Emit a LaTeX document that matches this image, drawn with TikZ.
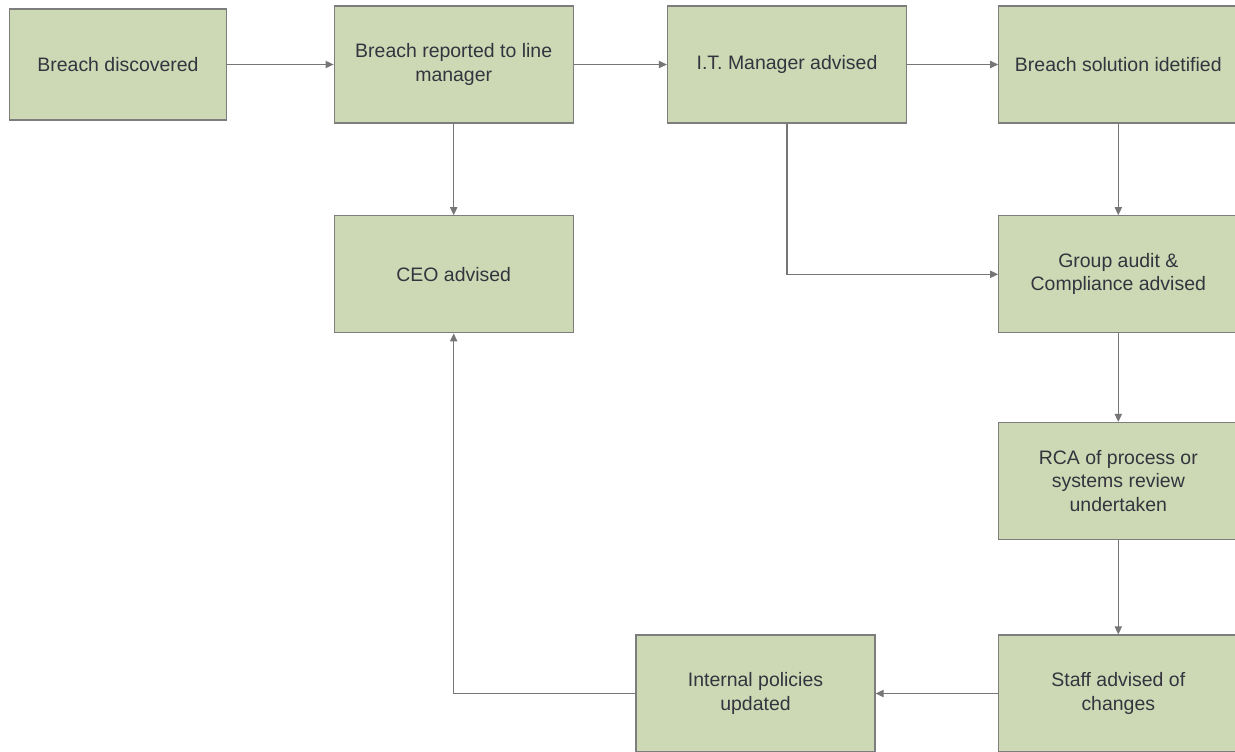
\documentclass[tikz,border=0pt]{standalone}
\usepackage{fontspec}
\setmainfont{Liberation Sans}
\usetikzlibrary{arrows.meta}
\definecolor{boxfill}{RGB}{205,217,181}
\definecolor{boxline}{RGB}{125,125,125}
\definecolor{arrowc}{RGB}{118,118,118}
\definecolor{textc}{RGB}{52,52,62}
\begin{document}
\begin{tikzpicture}[x=0.75pt,y=-0.75pt,
  stepbox/.style={draw=boxline, fill=boxfill, line width=0.9pt, rectangle,
    minimum width=179.25pt, minimum height=87.75pt, inner sep=0pt,
    align=center, text=textc, font=\fontsize{14.6}{17.4}\selectfont},
  conn/.style={draw=arrowc, line width=0.9pt,
    -{Triangle[length=6pt,width=5.4pt]}}]
\useasboundingbox (0,0) rectangle (1235,751);
\fill[white] (0,0) rectangle (1235,751);
\node[stepbox, minimum width=162.75pt, minimum height=83.25pt] (b1) at (118,64.5) {Breach discovered};
\node[stepbox] (b2) at (453.7,64.5) {Breach reported to line\\manager};
\node[stepbox] (b3) at (787,64.5) {I.T. Manager advised};
\node[stepbox] (b4) at (1118.3,64.5) {Breach solution idetified};
\node[stepbox] (ceo) at (453.7,274.3) {CEO advised};
\node[stepbox] (grp) at (1118.3,274.3) {Group audit \&\\Compliance advised};
\node[stepbox] (rca) at (1118.3,481) {RCA of process or\\systems review\\undertaken};
\node[stepbox] (staff) at (1118.3,693.5) {Staff advised of\\changes};
\node[stepbox] (int) at (755.5,693.5) {Internal policies\\updated};
\draw[conn] (b1) -- (b2);
\draw[conn] (b2) -- (b3);
\draw[conn] (b3) -- (b4);
\draw[conn] (b2) -- (ceo);
\draw[conn] (b3.south) |- (grp.west);
\draw[conn] (b4) -- (grp);
\draw[conn] (grp) -- (rca);
\draw[conn] (rca) -- (staff);
\draw[conn] (staff) -- (int);
\draw[conn] (int.west) -| (ceo.south);
\end{tikzpicture}
\end{document}
